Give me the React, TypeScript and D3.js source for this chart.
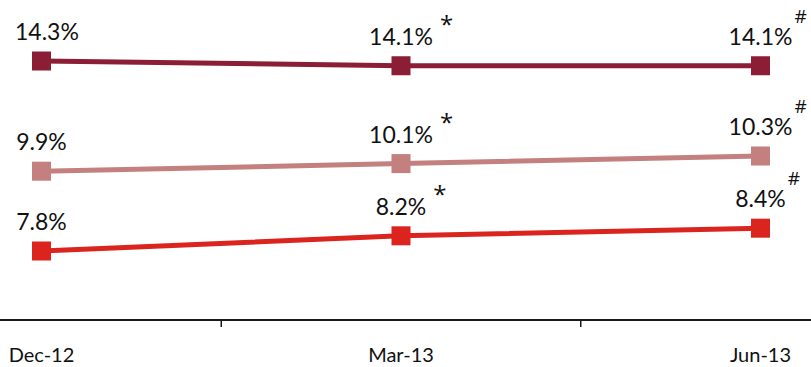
import React, { useEffect, useRef } from 'react';
import * as d3 from 'd3';

const categories = ['Dec-12', 'Mar-13', 'Jun-13'];
const seriesNames = ['top', 'middle', 'bottom'];
const seriesColors = ['#8B1E34', '#C47F7F', '#DC241F'];
const values = [
  [14.3, 14.1, 14.1],
  [9.9, 10.1, 10.3],
  [7.8, 8.2, 8.4],
];
// significance marks per category
const marks = ['', '*', '#'];

export default function App() {
  const svgRef = useRef<SVGSVGElement | null>(null);

  useEffect(() => {
    if (!svgRef.current) return;
    d3.select(svgRef.current).selectAll('*').remove();

    const width = 811;
    const height = 367;
    const svg = d3.select(svgRef.current).attr('width', width).attr('height', height);

    const x = d3.scalePoint<string>().domain(categories).range([41.5, 760.5]);
    const step = x.step();

    // the original chart is not evenly spaced, so a piecewise scale
    const y = d3.scaleLinear().domain([7.8, 10.3, 14.3]).range([251, 156, 61]);

    const axisY = 320;
    svg.append('line')
      .attr('x1', 0).attr('x2', width)
      .attr('y1', axisY).attr('y2', axisY)
      .attr('stroke', '#1a1a1a').attr('stroke-width', 2);

    const tickXs = categories.slice(1).map(c => (x(c) as number) - step / 2);
    svg.selectAll('line.tick').data(tickXs).enter().append('line')
      .attr('class', 'tick')
      .attr('x1', d => d).attr('x2', d => d)
      .attr('y1', axisY).attr('y2', axisY + 7)
      .attr('stroke', '#1a1a1a').attr('stroke-width', 1.5);

    svg.selectAll('text.cat').data(categories).enter().append('text')
      .attr('class', 'cat')
      .attr('x', d => x(d) as number)
      .attr('y', 362)
      .attr('text-anchor', 'middle')
      .style('font-family', 'Lato, sans-serif')
      .style('font-size', '20px')
      .style('fill', '#111')
      .text(d => d);

    const line = d3.line<number>()
      .x((_, i) => x(categories[i]) as number)
      .y(d => y(d));

    values.forEach((vals, si) => {
      const color = seriesColors[si];
      const g = svg.append('g').attr('class', seriesNames[si]);

      g.append('path')
        .datum(vals)
        .attr('d', line)
        .attr('fill', 'none')
        .attr('stroke', color)
        .attr('stroke-width', 5);

      g.selectAll('rect').data(vals).enter().append('rect')
        .attr('x', (_, i) => (x(categories[i]) as number) - 9.5)
        .attr('y', d => y(d) - 9.5)
        .attr('width', 19).attr('height', 19)
        .attr('fill', color);

      vals.forEach((v, i) => {
        const cx = x(categories[i]) as number;
        const ty = y(v) - 21;
        const t = g.append('text')
          .attr('x', cx)
          .attr('y', ty)
          .attr('text-anchor', 'middle')
          .style('font-family', 'Lato, sans-serif')
          .style('font-size', '23px')
          .style('fill', '#111')
          .text(`${v.toFixed(1)}%`);
        const w = (t.node() as SVGTextElement).getComputedTextLength();
        let lx = cx;
        if (cx - w / 2 < 15) {
          lx = 15 + w / 2;
          t.attr('x', lx);
        }
        const m = marks[i];
        if (m) {
          const isStar = m === '*';
          g.append('text')
            .attr('x', lx + w / 2 + (isStar ? 7 : 2))
            .attr('y', ty - (isStar ? 12 : 22))
            .style('font-family', '"Open Sans", sans-serif')
            .style('font-size', isStar ? '24px' : '19px')
            .style('fill', '#111')
            .text(m);
        }
      });
    });
  }, []);

  return (
    <div>
      <svg ref={svgRef} style={{ position: 'absolute', left: 0, top: 0 }}></svg>
    </div>
  );
}
